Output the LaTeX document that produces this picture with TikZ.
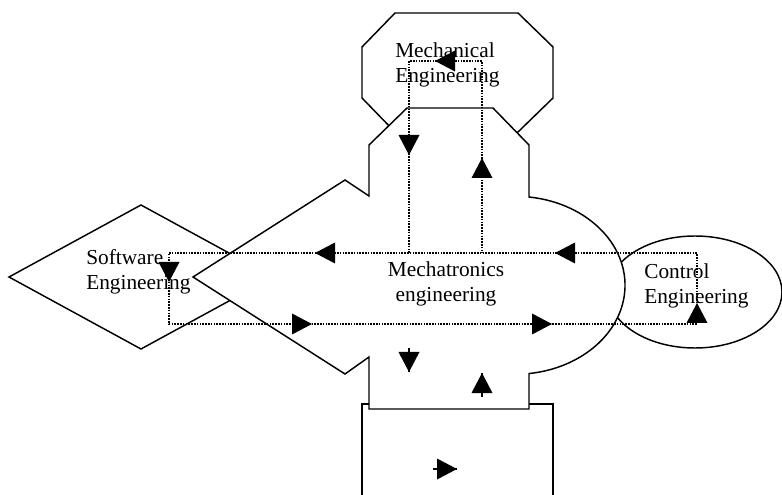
\documentclass[tikz,border=0pt]{standalone}
\usepackage{fontspec}
\setmainfont{Liberation Serif}
\begin{document}
\begin{tikzpicture}[x=0.75pt,y=-0.75pt,
  outline/.style={draw=black,line width=1.1pt,line join=miter,fill=white},
  flow/.style={draw=black,line width=1.6pt,dash pattern=on 1.2pt off 0.9pt},
  label/.style={font=\fontsize{16}{18.75}\selectfont,inner sep=0pt,align=left,anchor=base west},
  aright/.pic={\fill (0,0) -- (-20,-10.5) -- (-20,10.5) -- cycle;},
  aleft/.pic={\fill (0,0) -- (20,-10.5) -- (20,10.5) -- cycle;},
  adown/.pic={\fill (0,0) -- (-10.5,-20) -- (10.5,-20) -- cycle;},
  aup/.pic={\fill (0,0) -- (-10.5,20) -- (10.5,20) -- cycle;},
  tail/.style={draw=black,line width=0.8pt}]
\useasboundingbox (0,0) rectangle (782,495);
\clip (0,0) rectangle (782,495);

% discipline shapes behind the central block
\draw[outline] (362,404) rectangle (553,520);
\draw[outline] (395,13) -- (518,13) -- (553,47) -- (553,98) -- (518,132)
  -- (395,132) -- (362,98) -- (362,47) -- cycle;
\draw[outline] (141,205) -- (273,277) -- (141,349) -- (9,277) -- cycle;
\draw[outline] (695,292) ellipse[x radius=87,y radius=56];

% central mechatronics block
\draw[outline] (193,277) -- (345,180) -- (369,196) -- (369,145) -- (407,108)
  -- (493,108) -- (529,145) -- (529,197)
  arc[start angle=-82.7,end angle=82.7,x radius=110,y radius=89]
  -- (529,409) -- (369,409) -- (369,357) -- (345,374) -- cycle;

% texts (anchored at the baseline of the last line)
\node[label] (mech) at (395,83) {Mechanical\\Engineering};
\node[label] (soft) at (86,290) {Software\\Engineering};
\node[label] (ctrl) at (644,304) {Control\\Engineering};
\node[label,align=center,anchor=base] (mtr) at (446,302) {Mechatronics\\engineering};

% exchange loops
\coordinate (sw1) at (169,253);
\coordinate (sw2) at (169,324);
\coordinate (ce1) at (697,253);
\coordinate (ce2) at (697,324);
\coordinate (ml0) at (409,253);
\coordinate (ml1) at (409,61);
\coordinate (mr1) at (482,61);
\coordinate (mr0) at (482,253);
\draw[flow] (sw1) -- (ce1) -- (ce2) -- (sw2) -- cycle;
\draw[flow] (ml0) -- (ml1) -- (mr1) -- (mr0);

% direction marks
\pic at (409,155) {adown};
\pic at (435,61) {aleft};
\pic at (482,158) {aup};
\pic at (169,282) {adown};
\pic at (315,253) {aleft};
\pic at (555,253) {aleft};
\pic at (312,324) {aright};
\pic at (552,324) {aright};
\pic at (697,303) {aup};

% loose marks below
\coordinate (d0) at (409,348);
\coordinate (d1) at (409,372);
\coordinate (u0) at (482,397);
\coordinate (u1) at (482,373);
\coordinate (r0) at (433,469);
\coordinate (r1) at (457,469);
\draw[tail] (d0) -- (d1);
\draw[tail] (u0) -- (u1);
\draw[tail] (r0) -- (r1);
\pic at (d1) {adown};
\pic at (u1) {aup};
\pic at (r1) {aright};
\end{tikzpicture}
\end{document}
